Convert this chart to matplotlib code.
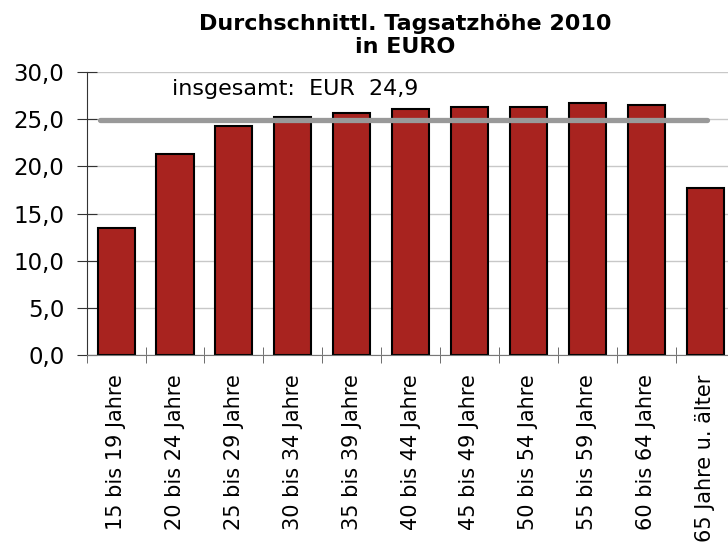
import numpy as np
import matplotlib.pyplot as plt

# Daten
kategorien = ["15 bis 19 Jahre", "20 bis 24 Jahre", "25 bis 29 Jahre", "30 bis 34 Jahre",
              "35 bis 39 Jahre", "40 bis 44 Jahre", "45 bis 49 Jahre", "50 bis 54 Jahre",
              "55 bis 59 Jahre", "60 bis 64 Jahre", "65 Jahre u. älter"]
tagsatz = [13.5, 21.3, 24.3, 25.3, 25.7, 26.1, 26.3, 26.3, 26.7, 26.5, 17.7]
insgesamt = 24.9

plt.rcParams['font.family'] = ['DejaVu Sans']

fig = plt.figure(figsize=(7.28, 5.47), dpi=100)
ax = fig.add_axes([0.119, 0.351, 0.89, 0.517])

x = np.arange(len(kategorien))
ax.bar(x, tagsatz, width=0.63, color='#a8231f', edgecolor='black', linewidth=1.5, zorder=2)
ax.plot([-0.27, 10.03], [insgesamt, insgesamt], color='#999999', linewidth=3.8,
        solid_capstyle='round', zorder=3)
ax.text(0.95, 28.2, "insgesamt:  EUR  24,9", fontsize=16, va='center', ha='left')

ax.set_xlim(-0.5, len(kategorien) - 0.5)
ax.set_ylim(0, 30)
ax.set_yticks(np.arange(0, 31, 5))
ax.set_yticklabels([f"{v:.1f}".replace('.', ',') for v in np.arange(0, 31, 5)], fontsize=16.5)
ax.yaxis.grid(True, color='#c8c8c8', linewidth=1, zorder=0)
ax.set_axisbelow(True)

ax.set_xticks(x)
ax.set_xticklabels(kategorien, rotation=90, fontsize=15)
ax.tick_params(axis='x', length=0, pad=14)
ax.set_xticks(np.arange(-0.5, len(kategorien), 1), minor=True)
ax.tick_params(axis='x', which='minor', direction='inout', length=12, color='#555555')
ax.tick_params(axis='y', direction='inout', length=14, color='#333333', pad=9)

for s in ['top', 'right']:
    ax.spines[s].set_visible(False)
ax.spines['left'].set_color('#333333')
ax.spines['bottom'].set_color('#777777')

fig.text(0.556, 0.935, "Durchschnittl. Tagsatzhöhe 2010\nin EURO", ha='center', va='center',
         fontsize=16, fontweight='bold', linespacing=1.2)

fig.savefig('out.png', dpi=100)
